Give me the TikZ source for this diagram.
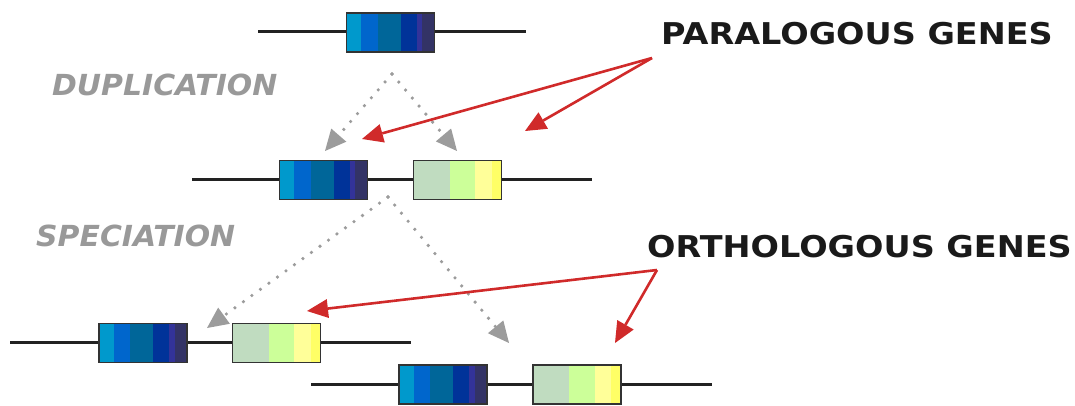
\documentclass[tikz,border=0pt]{standalone}
\usepackage{fontspec}
\setmainfont{DejaVu Sans}
\newfontfamily\widebold[FakeStretch=1.115]{DejaVu Sans}
\newfontfamily\slightwide[FakeStretch=1.03]{DejaVu Sans}
\usetikzlibrary{arrows.meta,calc}
\definecolor{bA}{HTML}{0099CC}
\definecolor{bB}{HTML}{0066CC}
\definecolor{bC}{HTML}{006699}
\definecolor{bD}{HTML}{003399}
\definecolor{bE}{HTML}{333399}
\definecolor{bF}{HTML}{333366}
\definecolor{gA}{HTML}{C0DCC0}
\definecolor{gB}{HTML}{CCFF99}
\definecolor{gC}{HTML}{FFFF99}
\definecolor{gD}{HTML}{FFFF66}
\definecolor{boxline}{HTML}{333333}
\definecolor{chrom}{HTML}{222222}
\definecolor{dotgray}{HTML}{9C9C9C}
\definecolor{labgray}{HTML}{999999}
\definecolor{redarrow}{HTML}{D02A2A}
\definecolor{textblack}{HTML}{1A1A1A}
\tikzset{
  x=1pt, y=-1pt,
  genebox/.style={rectangle, draw=boxline, line width=1.8pt, minimum width=88pt, minimum height=39pt, inner sep=0pt},
  bluegene/.style={genebox, path picture={
    \path (path picture bounding box.south west) coordinate (psw) (path picture bounding box.north east) coordinate (pne);
    \foreach \a/\b/\c in {0/0.17/bA, 0.17/0.355/bB, 0.355/0.615/bC, 0.615/0.80/bD, 0.80/0.86/bE, 0.86/1/bF}
      \fill[\c] ($(psw)!\a!(psw-|pne)$) rectangle ($(psw|-pne)!\b!(pne)$);
  }},
  greengene/.style={genebox, path picture={
    \path (path picture bounding box.south west) coordinate (psw) (path picture bounding box.north east) coordinate (pne);
    \foreach \a/\b/\c in {0/0.41/gA, 0.41/0.70/gB, 0.70/0.89/gC, 0.89/1/gD}
      \fill[\c] ($(psw)!\a!(psw-|pne)$) rectangle ($(psw|-pne)!\b!(pne)$);
  }},
  chromline/.style={draw=chrom, line width=3pt},
  grayarrow/.style={draw=dotgray, line width=3.6pt, line cap=round, dash pattern=on 0pt off 10.5pt, -{Triangle[length=21pt,width=20pt,fill=dotgray,line width=0pt]}},
  redarr/.style={draw=redarrow, line width=2.6pt, -{Triangle[length=21pt,width=19pt,fill=redarrow,line width=0pt]}},
  biglabel/.style={font=\widebold\fontsize{30}{36}\selectfont\bfseries, text=textblack, inner sep=0pt, anchor=base west},
  steplabel/.style={font=\slightwide\fontsize{29}{35}\selectfont\bfseries\itshape, text=labgray, inner sep=0pt, anchor=base west},
}
\begin{document}
\begin{tikzpicture}
\useasboundingbox (0,0) rectangle (1075,406);
% chromosome lines
\coordinate (l1a) at (258,32); \coordinate (l1b) at (526,32);
\coordinate (l2a) at (192,180); \coordinate (l2b) at (592,180);
\coordinate (l3a) at (10,342); \coordinate (l3b) at (411,342);
\coordinate (l4a) at (311,384); \coordinate (l4b) at (712,384);
\draw[chromline] (l1a) -- (l1b);
\draw[chromline] (l2a) -- (l2b);
\draw[chromline] (l3a) -- (l3b);
\draw[chromline] (l4a) -- (l4b);
% genes
\node[bluegene] (g1) at (390.5,32.5) {};
\node[bluegene] (g2b) at (323.5,180) {};
\node[greengene] (g2g) at (457.5,180) {};
\node[bluegene] (g3b) at (143,343) {};
\node[greengene] (g3g) at (276.5,343) {};
\node[bluegene] (g4b) at (443,384.5) {};
\node[greengene] (g4g) at (577,384.5) {};
% labels
\node[steplabel] (dup) at (52,96) {DUPLICATION};
\node[steplabel] (spec) at (36,246) {SPECIATION};
\node[biglabel] (para) at (661,45) {PARALOGOUS GENES};
\node[biglabel] (orth) at (647,257) {ORTHOLOGOUS GENES};
% duplication arrows
\coordinate (dsrc) at (392,74);
\coordinate (dl) at (325,151);
\coordinate (dr) at (457,151);
\draw[grayarrow] (dsrc) -- (dl);
\draw[grayarrow] (dsrc) -- (dr);
% speciation arrows
\coordinate (ssrc) at (388,197);
\coordinate (sl) at (207,328);
\coordinate (sr) at (509,343);
\draw[grayarrow] (ssrc) -- (sl);
\draw[grayarrow] (ssrc) -- (sr);
% red arrows
\coordinate (psrc) at (652,58);
\coordinate (pl) at (362,139);
\coordinate (pr) at (525,131);
\draw[redarr] (psrc) -- (pl);
\draw[redarr] (psrc) -- (pr);
\coordinate (osrc) at (657,270);
\coordinate (ol) at (307,311);
\coordinate (or) at (615,343);
\draw[redarr] (osrc) -- (ol);
\draw[redarr] (osrc) -- (or);
\end{tikzpicture}
\end{document}
